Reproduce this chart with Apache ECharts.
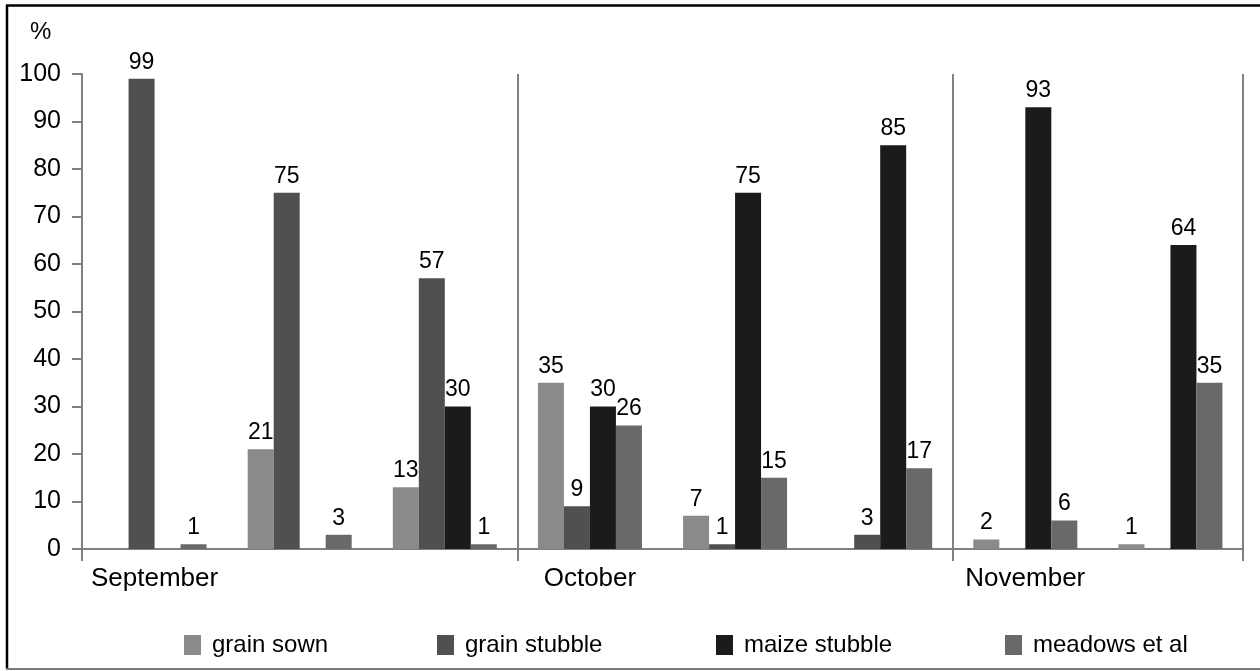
<!DOCTYPE html>
<html>
<head>
<meta charset="utf-8">
<script src="https://cdn.jsdelivr.net/npm/echarts@6/dist/echarts.min.js"></script>
<style>
  html, body { margin: 0; padding: 0; background: #ffffff; }
  #chart { width: 1260px; height: 671px; }
</style>
</head>
<body>
<div id="chart"></div>
<script>
// Eight survey groups: three in September, three in October, two in November
const categories = ['September', '', '', 'October', '', '', 'November', ''];
const seriesNames = ['grain sown', 'grain stubble', 'maize stubble', 'meadows et al'];
const grainSown    = [0, 21, 13, 35, 7, 0, 2, 1];
const grainStubble = [99, 75, 57, 9, 1, 3, 0, 0];
const maizeStubble = [0, 0, 30, 30, 75, 85, 93, 64];
const meadows      = [1, 3, 1, 26, 15, 17, 6, 35];
const yTicks = [0, 10, 20, 30, 40, 50, 60, 70, 80, 90, 100];

const colors = ['#8a8a8a', '#505050', '#1b1b1b', '#696969'];
const values = [grainSown, grainStubble, maizeStubble, meadows];
const FONT = "'Liberation Sans', Arial, Helvetica, sans-serif";
const monthStarts = [0, 3, 6];

const chart = echarts.init(document.getElementById('chart'), null, { renderer: 'canvas' });

const series = seriesNames.map((name, i) => ({
  name: name,
  type: 'bar',
  data: values[i],
  barWidth: 26,
  barGap: '0%',
  itemStyle: { color: colors[i] },
  label: {
    show: true,
    position: 'top',
    distance: 5,
    color: '#000',
    fontFamily: FONT,
    fontSize: 23,
    formatter: p => (p.value ? String(p.value) : '')
  }
}));

// one legend block per series so each entry sits at its own spot
const legendLefts = [179, 432, 711, 1000];
const legends = seriesNames.map((name, i) => ({
  data: [name],
  left: legendLefts[i],
  top: 628,
  itemWidth: 17,
  itemHeight: 20,
  icon: 'rect',
  textStyle: { fontFamily: FONT, fontSize: 24, color: '#000', padding: [0, 0, 0, 6] }
}));

chart.setOption({
  animation: false,
  backgroundColor: '#ffffff',
  title: {
    text: '%',
    left: 25,
    top: 15,
    textStyle: { fontFamily: FONT, fontSize: 24, fontWeight: 'normal', color: '#000' }
  },
  legend: legends,
  grid: { left: 82, right: 17, top: 74, bottom: 122, containLabel: false },
  xAxis: {
    type: 'category',
    data: categories,
    boundaryGap: true,
    axisLine: { show: true, lineStyle: { color: '#808080', width: 2 } },
    axisTick: {
      show: true,
      interval: (idx) => monthStarts.indexOf(idx) >= 0,
      length: 12,
      lineStyle: { color: '#808080', width: 2 }
    },
    splitLine: {
      show: true,
      interval: (idx) => idx === 3 || idx === 6,
      lineStyle: { color: '#808080', width: 2 }
    },
    axisLabel: {
      interval: 0,
      margin: 17,
      color: '#000',
      fontFamily: FONT,
      fontSize: 26
    }
  },
  yAxis: {
    type: 'value',
    min: yTicks[0],
    max: yTicks[yTicks.length - 1],
    interval: yTicks[1] - yTicks[0],
    axisLine: { show: true, lineStyle: { color: '#808080', width: 2 } },
    axisTick: { show: true, length: 10, lineStyle: { color: '#808080', width: 2 } },
    splitLine: { show: false },
    axisLabel: {
      margin: 21,
      color: '#000',
      fontFamily: FONT,
      fontSize: 25,
      formatter: v => (yTicks.indexOf(v) >= 0 ? String(v) : '')
    }
  },
  series: series,
  graphic: [
    // frame around the figure
    { type: 'line', shape: { x1: 6, y1: 5.5, x2: 1260, y2: 5.5 }, style: { stroke: '#000', lineWidth: 2.5 } },
    { type: 'line', shape: { x1: 7, y1: 5, x2: 7, y2: 669 }, style: { stroke: '#000', lineWidth: 2.5 } },
    { type: 'line', shape: { x1: 6, y1: 669, x2: 1260, y2: 669 }, style: { stroke: '#7a7a7a', lineWidth: 2 } },
    // small left extension of the baseline past the value axis
    { type: 'line', shape: { x1: 72, y1: 549, x2: 82, y2: 549 }, style: { stroke: '#808080', lineWidth: 2 } }
  ]
});
</script>
</body>
</html>
